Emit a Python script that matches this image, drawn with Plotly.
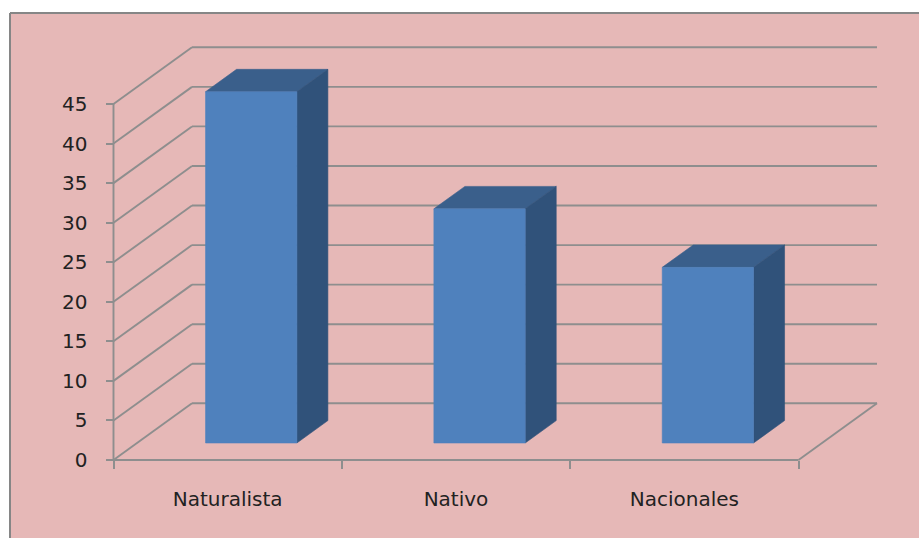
import plotly.graph_objects as go

categories = ["Naturalista", "Nativo", "Nacionales"]
values = [44.4, 29.6, 22.2]
y_ticks = [0, 5, 10, 15, 20, 25, 30, 35, 40, 45]
cat_edges = [0, 1, 2, 3]

# oblique projection, in axis units
W, H = 919, 538
ML, MT = 10, 13
X0, X3 = 113.5, 798.5
Y0, Y45 = 460.0, 104.0
PX_X = (X3 - X0) / 3
PX_Y = (Y0 - Y45) / 45
DX = 78.5 / PX_X
DY = 56.7 / PX_Y
BAR_HALF = 0.2
D_FRONT, D_BACK = 0.30, 0.695

BG = "#E6B8B7"
GRID = "#8E8E8E"
TXT = "#222222"


def proj(c, v, d):
    return c + d * DX, v + d * DY


def poly_trace(polys, color):
    xs, ys = [], []
    for p in polys:
        for c, v, d in p + [p[0]]:
            x, y = proj(c, v, d)
            xs.append(x)
            ys.append(y)
        xs.append(None)
        ys.append(None)
    return go.Scatter(x=xs, y=ys, mode="lines", fill="toself", fillcolor=color,
                      line=dict(width=0.6, color=color), hoverinfo="skip", showlegend=False)


def line_trace(segs, width=1.9):
    xs, ys = [], []
    for a, b in segs:
        for c, v, d in (a, b):
            x, y = proj(c, v, d)
            xs.append(x)
            ys.append(y)
        xs.append(None)
        ys.append(None)
    return go.Scatter(x=xs, y=ys, mode="lines", line=dict(width=width, color=GRID),
                      hoverinfo="skip", showlegend=False)


top_v = y_ticks[-1]
end_c = cat_edges[-1]
grid = []
for t in y_ticks:
    grid.append(((0, t, 0), (0, t, 1)))
    grid.append(((0, t, 1), (end_c, t, 1)))
grid.append(((0, 0, 0), (0, top_v, 0)))
grid.append(((0, 0, 0), (end_c, 0, 0)))
grid.append(((end_c, 0, 0), (end_c, 0, 1)))

front, side, top = [], [], []
for i, val in enumerate(values):
    c = i + 0.5
    l, r = c - BAR_HALF, c + BAR_HALF
    front.append([(l, 0, D_FRONT), (r, 0, D_FRONT), (r, val, D_FRONT), (l, val, D_FRONT)])
    side.append([(r, 0, D_FRONT), (r, 0, D_BACK), (r, val, D_BACK), (r, val, D_FRONT)])
    top.append([(l, val, D_FRONT), (r, val, D_FRONT), (r, val, D_BACK), (l, val, D_BACK)])

fig = go.Figure()
fig.add_trace(line_trace(grid))
fig.add_trace(poly_trace(top, "#3A5F8B"))
fig.add_trace(poly_trace(side, "#30527A"))
fig.add_trace(poly_trace(front, "#4F81BD"))

plot_w, plot_h = W - ML, H - MT
fig.update_layout(
    width=W, height=H,
    margin=dict(l=ML, r=0, t=MT, b=0, autoexpand=False),
    paper_bgcolor="white", plot_bgcolor=BG,
    showlegend=False,
    font=dict(family="DejaVu Sans", size=20, color=TXT),
    xaxis=dict(
        range=[(ML - X0) / PX_X, (W - X0) / PX_X],
        anchor="free", position=(H - Y0) / plot_h,
        tickvals=[i + 0.5 for i in range(len(categories))], ticktext=categories,
        ticks="", ticklabelstandoff=25, showgrid=False, zeroline=False, showline=False,
        tickfont=dict(size=20),
        minor=dict(tickvals=cat_edges, ticks="outside", ticklen=8, tickwidth=1.9,
                   tickcolor=GRID, showgrid=False),
    ),
    yaxis=dict(
        range=[(Y0 - H) / PX_Y, (Y0 - MT) / PX_Y],
        anchor="free", position=(X0 - ML) / plot_w,
        tickvals=y_ticks, ticks="outside", ticklen=8, tickwidth=1.9, tickcolor=GRID,
        ticklabelstandoff=14, showgrid=False, zeroline=False, showline=False,
        tickfont=dict(size=20),
    ),
    shapes=[
        dict(type="line", xref="paper", yref="paper", x0=0, x1=0, y0=0, y1=1,
             line=dict(color="#868686", width=2), layer="above"),
        dict(type="line", xref="paper", yref="paper", x0=0, x1=1, y0=1, y1=1,
             line=dict(color="#868686", width=2), layer="above"),
    ],
)
fig.write_html("out.html", config={"displayModeBar": False},
               post_script="document.body.style.margin='0';document.body.style.overflow='hidden';")
